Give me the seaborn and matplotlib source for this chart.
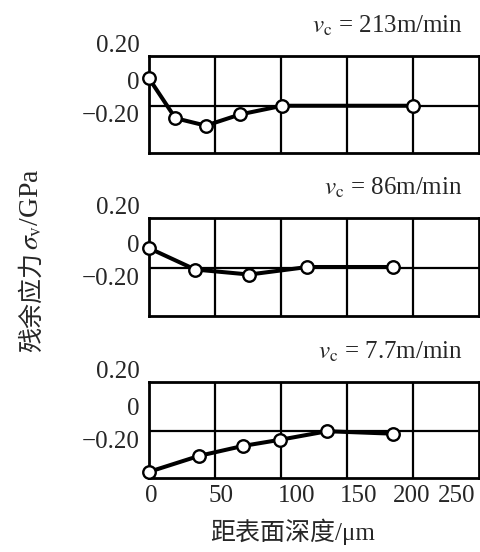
import matplotlib
matplotlib.use("Agg")
import matplotlib.pyplot as plt
import matplotlib.transforms as mtransforms
import seaborn as sns
import pandas as pd

# ---- data ----
depth_213 = [0, 20, 43, 69, 101, 200]
stress_213 = [0.02, -0.30, -0.36, -0.27, -0.20, -0.20]
depth_86 = [0, 35, 76, 120, 185]
stress_86 = [-0.04, -0.21, -0.25, -0.19, -0.19]
depth_7 = [0, 38, 71, 99, 135, 185]
stress_7 = [-0.53, -0.40, -0.32, -0.27, -0.20, -0.22]
titles = ["213m/min", "86m/min", "7.7m/min"]
x_ticks = [0, 50, 100, 150, 200, 250]
y_ticks = [0.20, 0.0, -0.20]
y_ticklabels = ["0.20", "0", "\u22120.20"]
x_label = "距表面深度/μm"
y_label_cjk = "残余应力"
y_label_sym = "$\\sigma_\\mathrm{v}$/GPa"

sns.set_style("white")
plt.rcParams["font.family"] = ["Liberation Serif", "Noto Sans CJK SC", "DejaVu Sans"]
plt.rcParams["mathtext.fontset"] = "stix"

W, H = 481, 552
fig = plt.figure(figsize=(W / 100, H / 100), dpi=100)

# axes boxes in pixels: (left, top, right, bottom)
boxes = [(149, 56, 479, 153), (149, 218, 479, 316), (149, 382, 479, 478)]
series = [(depth_213, stress_213), (depth_86, stress_86), (depth_7, stress_7)]

FS = 18
ylab_off = [12, 0, -8]  # px offsets of y tick labels
xlab_off = [2, 6, 16, 12, -1, -22]  # px offsets of x tick labels

for i, ((l, t, r, b), (xs, ys)) in enumerate(zip(boxes, series)):
    ax = fig.add_axes([l / W, 1 - b / H, (r - l) / W, (b - t) / H])
    df = pd.DataFrame({"depth": xs, "stress": ys})
    ax.set_xlim(0, 250)
    ax.set_ylim(-0.58, 0.20)
    for xv in x_ticks[1:-1]:
        ax.axvline(xv, color="black", lw=1.6, zorder=1)
    ax.axhline(y_ticks[-1], color="black", lw=1.6, zorder=1)
    sns.lineplot(data=df, x="depth", y="stress", ax=ax, color="black",
                 lw=2.9, marker="o", markersize=9, markerfacecolor="white",
                 markeredgecolor="black", markeredgewidth=1.7, zorder=3,
                 clip_on=False)
    for s in ax.spines.values():
        s.set_visible(True)
        s.set_color("black")
        s.set_linewidth(2.0)
    ax.set_xlabel("")
    ax.set_ylabel("")
    ax.set_xticks(x_ticks)
    ax.set_yticks(y_ticks)
    ax.set_yticklabels(y_ticklabels, fontsize=FS)
    ax.tick_params(axis="both", length=0, pad=7)
    for lab, off in zip(ax.get_yticklabels(), ylab_off):
        lab.set_transform(lab.get_transform() +
                          mtransforms.ScaledTranslation(0, off / 100, fig.dpi_scale_trans))
    if i < 2:
        ax.set_xticklabels([])
    else:
        ax.set_xticklabels([str(v) for v in x_ticks], fontsize=FS)
        ax.tick_params(axis="x", pad=5)
        for lab, off in zip(ax.get_xticklabels(), xlab_off):
            lab.set_transform(lab.get_transform() +
                              mtransforms.ScaledTranslation(off / 100, 0, fig.dpi_scale_trans))
    ax.text(0.95, 1.0 + 30 / (b - t), "$v_\\mathrm{c}$ = " + titles[i],
            transform=ax.transAxes, ha="right", va="center", fontsize=FS)

fig.text(293 / W, 1 - 532 / H, x_label, ha="center", va="center", fontsize=18)
# rotated y label in two pieces (CJK part + math part)
fig.text(32 / W, 1 - 252 / H, y_label_cjk, ha="center", va="top",
         rotation=90, fontsize=18, family=["Noto Sans CJK SC"])
fig.text(32 / W, 1 - 250 / H, y_label_sym, ha="center", va="bottom",
         rotation=90, fontsize=20)

fig.savefig("out.png", dpi=100)
